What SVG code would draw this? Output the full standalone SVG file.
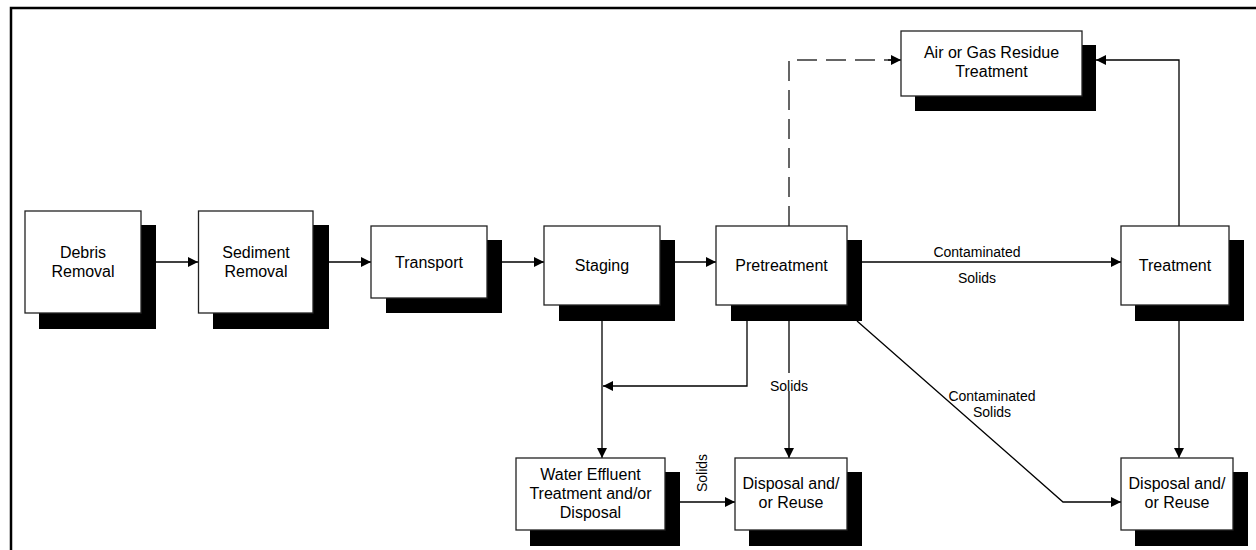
<svg xmlns="http://www.w3.org/2000/svg" width="1256" height="550" viewBox="0 0 1256 550">
<defs>
<marker id="ah" viewBox="0 0 10 10" refX="10" refY="5" markerWidth="10" markerHeight="10" markerUnits="userSpaceOnUse" orient="auto">
<path d="M0,0 L10,5 L0,10 z" fill="#000"/>
</marker>
<style>
.sh{fill:#000}
.bx{fill:#fff;stroke:#222;stroke-width:1.3}
.t{font-family:"Liberation Sans",Arial,sans-serif;font-size:16px;fill:#000;text-anchor:middle}
.l{font-family:"Liberation Sans",Arial,sans-serif;font-size:14px;fill:#000;text-anchor:middle}
.c{fill:none;stroke:#000;stroke-width:1.3}
.d{fill:none;stroke:#333;stroke-width:1.5;stroke-dasharray:20 9}
</style>
</defs>
<rect width="1256" height="550" fill="#fff"/>
<path d="M11,550 V8 H1256" fill="none" stroke="#000" stroke-width="2.5"/>
<g id="connectors">
<line class="c" x1="156" y1="262" x2="198" y2="262" marker-end="url(#ah)"/>
<line class="c" x1="329" y1="262" x2="371" y2="262" marker-end="url(#ah)"/>
<line class="c" x1="502" y1="262" x2="544" y2="262" marker-end="url(#ah)"/>
<line class="c" x1="675" y1="262" x2="716" y2="262" marker-end="url(#ah)"/>
<line class="c" x1="862" y1="262" x2="1121" y2="262" marker-end="url(#ah)"/>
<path class="d" d="M789,226 V60 H891"/>
<line class="c" x1="888" y1="60" x2="901" y2="60" marker-end="url(#ah)"/>
<path class="c" d="M1179,226 V60 H1096" marker-end="url(#ah)"/>
<line class="c" x1="602" y1="321" x2="602" y2="458" marker-end="url(#ah)"/>
<path class="c" d="M747,321 V386 H603" marker-end="url(#ah)"/>
<line class="c" x1="789" y1="321" x2="789" y2="458" marker-end="url(#ah)"/>
<line class="c" x1="680" y1="502" x2="735" y2="502" marker-end="url(#ah)"/>
<line class="c" x1="1179" y1="321" x2="1179" y2="458" marker-end="url(#ah)"/>
<path class="c" d="M857,321 L1063,502 H1121" marker-end="url(#ah)"/>
<rect x="770" y="373" width="38" height="18" fill="#fff"/>
<text class="l" x="977" y="257">Contaminated</text>
<text class="l" x="977" y="283">Solids</text>
<text class="l" x="789" y="391">Solids</text>
<text class="l" x="992" y="401">Contaminated</text>
<text class="l" x="992" y="417">Solids</text>
<text class="l" transform="translate(707,473) rotate(-90)">Solids</text>
</g>
<g id="debris">
<rect class="sh" x="39" y="225" width="117" height="104"/>
<rect class="bx" x="25" y="211" width="116" height="102"/>
<text class="t" x="83" y="258">Debris</text>
<text class="t" x="83" y="277">Removal</text>
</g>
<g id="sediment">
<rect class="sh" x="213" y="225" width="116" height="104"/>
<rect class="bx" x="198.5" y="211" width="114.5" height="102"/>
<text class="t" x="256" y="258">Sediment</text>
<text class="t" x="256" y="277">Removal</text>
</g>
<g id="transport">
<rect class="sh" x="386" y="240" width="116" height="73"/>
<rect class="bx" x="371" y="226" width="116" height="72"/>
<text class="t" x="429" y="268">Transport</text>
</g>
<g id="staging">
<rect class="sh" x="559" y="240" width="116" height="81"/>
<rect class="bx" x="544" y="226" width="116" height="79"/>
<text class="t" x="602" y="271">Staging</text>
</g>
<g id="pretreatment">
<rect class="sh" x="731" y="240" width="131" height="81"/>
<rect class="bx" x="716" y="226" width="131" height="79"/>
<text class="t" x="781.5" y="271">Pretreatment</text>
</g>
<g id="air">
<rect class="sh" x="915" y="45" width="181" height="66"/>
<rect class="bx" x="901" y="31" width="181" height="65"/>
<text class="t" x="991.5" y="58">Air or Gas Residue</text>
<text class="t" x="991.5" y="77">Treatment</text>
</g>
<g id="treatment">
<rect class="sh" x="1135" y="240" width="109" height="81"/>
<rect class="bx" x="1121" y="226" width="108" height="79"/>
<text class="t" x="1175" y="271">Treatment</text>
</g>
<g id="water">
<rect class="sh" x="530" y="472" width="150" height="74"/>
<rect class="bx" x="516" y="458" width="149" height="72"/>
<text class="t" x="590.5" y="480">Water Effluent</text>
<text class="t" x="590.5" y="499">Treatment and/or</text>
<text class="t" x="590.5" y="518">Disposal</text>
</g>
<g id="disposal1">
<rect class="sh" x="749" y="472" width="113" height="74"/>
<rect class="bx" x="735" y="458" width="112" height="72"/>
<text class="t" x="791" y="489">Disposal and/</text>
<text class="t" x="791" y="508">or Reuse</text>
</g>
<g id="disposal2">
<rect class="sh" x="1135" y="472" width="113" height="74"/>
<rect class="bx" x="1121" y="458" width="112" height="72"/>
<text class="t" x="1177" y="489">Disposal and/</text>
<text class="t" x="1177" y="508">or Reuse</text>
</g>
</svg>
